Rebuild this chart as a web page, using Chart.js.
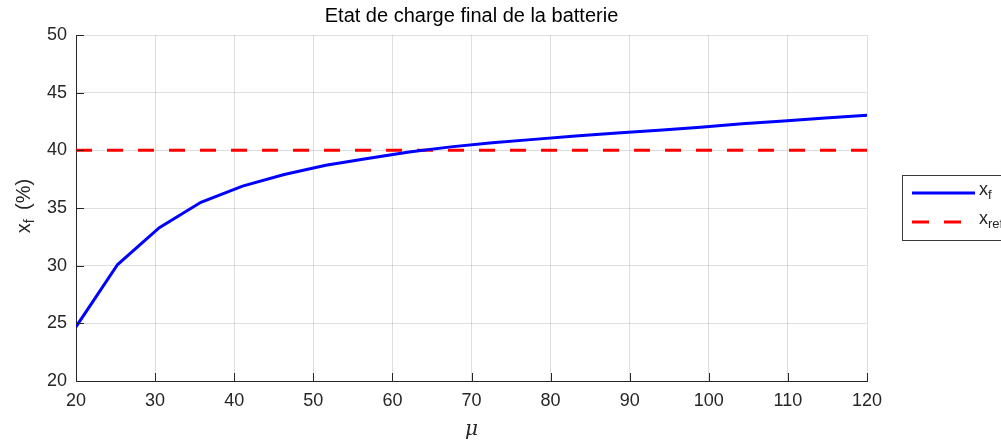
<!DOCTYPE html>
<html>
<head>
<meta charset="utf-8">
<script src="https://cdn.jsdelivr.net/npm/chart.js@4/dist/chart.umd.min.js"></script>
<style>
  html, body { margin: 0; padding: 0; background: #fff; }
  #wrap { width: 1001px; height: 441px; }
</style>
</head>
<body>
<div id="wrap"><canvas id="GraficoEtat" width="1001" height="441"></canvas></div>
<script>
// valeurs
var mu = [20, 25.26, 30.53, 35.79, 41.05, 46.32, 51.58, 56.84, 62.11, 67.37,
          72.63, 77.89, 83.16, 88.42, 93.68, 98.95, 104.21, 109.47, 114.74, 120];
var xf = [24.7, 30.1, 33.3, 35.5, 36.9, 37.9, 38.7, 39.3, 39.85, 40.3,
          40.65, 40.95, 41.25, 41.5, 41.75, 42.0, 42.3, 42.55, 42.8, 43.05];
var xrefMu = [20, 120];
var xref = [40, 40];
var xTicks = [20, 30, 40, 50, 60, 70, 80, 90, 100, 110, 120];
var yTicks = [20, 25, 30, 35, 40, 45, 50];
var titre = 'Etat de charge final de la batterie';

var FONT = '"Liberation Sans", Arial, Helvetica, sans-serif';
var AXE = '#262626';

function pts(xs, ys) {
    return xs.map(function (v, i) { return { x: v, y: ys[i] }; });
}

// texte avec indice (x_f, x_ref)
function texteIndice(ctx, base, sub, rest, x, y, size, gap) {
    ctx.font = size + 'px ' + FONT;
    ctx.fillText(base, x, y);
    var w = ctx.measureText(base).width;
    ctx.font = Math.round(size * 0.72) + 'px ' + FONT;
    ctx.fillText(sub, x + w, y + size * 0.3);
    var w2 = ctx.measureText(sub).width + (gap || 0);
    if (rest) {
        ctx.font = size + 'px ' + FONT;
        ctx.fillText(rest, x + w + w2, y);
        w2 += ctx.measureText(rest).width;
    }
    return w + w2;
}

var decor = {
    id: 'decor',
    afterDraw: function (chart) {
        var ctx = chart.ctx;
        var a = chart.chartArea;
        var sx = chart.scales.x, sy = chart.scales.y;
        ctx.save();

        // ticks vers l'interieur
        ctx.strokeStyle = AXE;
        ctx.lineWidth = 1;
        ctx.beginPath();
        xTicks.forEach(function (t) {
            var px = Math.round(sx.getPixelForValue(t)) + 0.5;
            ctx.moveTo(px, a.bottom);
            ctx.lineTo(px, a.bottom - 8);
        });
        yTicks.forEach(function (t) {
            var py = Math.round(sy.getPixelForValue(t)) + 0.5;
            ctx.moveTo(a.left, py);
            ctx.lineTo(a.left + 8, py);
        });
        ctx.stroke();

        // titre
        ctx.fillStyle = '#000';
        ctx.font = '20px ' + FONT;
        ctx.textAlign = 'center';
        ctx.textBaseline = 'middle';
        ctx.fillText(titre, (a.left + a.right) / 2, 16);

        // titre axe x
        ctx.fillStyle = AXE;
        ctx.font = 'italic 20px "DejaVu Serif", serif';
        ctx.fillText('\u03BC', (a.left + a.right) / 2, 430);

        // titre axe y
        ctx.save();
        ctx.translate(24, 203);
        ctx.rotate(-Math.PI / 2);
        ctx.textAlign = 'left';
        ctx.font = '20px ' + FONT;
        var total = ctx.measureText('x').width + 14 + ctx.measureText(' (%)').width;
        ctx.fillStyle = AXE;
        texteIndice(ctx, 'x', 'f', ' (%)', -total / 2, 0, 20, 4);
        ctx.restore();

        // legende
        var lx = 902, ly = 175, lw = 110, lh = 65;
        ctx.fillStyle = '#fff';
        ctx.fillRect(lx, ly, lw, lh);
        ctx.strokeStyle = '#3a3a3a';
        ctx.lineWidth = 1;
        ctx.strokeRect(lx + 0.5, ly + 0.5, lw, lh);
        ctx.textAlign = 'left';
        ctx.textBaseline = 'middle';
        ctx.lineWidth = 3;
        ctx.strokeStyle = '#0000ff';
        ctx.beginPath();
        ctx.moveTo(912, 193);
        ctx.lineTo(975, 193);
        ctx.stroke();
        ctx.fillStyle = AXE;
        texteIndice(ctx, 'x', 'f', '', 979, 190, 18);
        ctx.strokeStyle = '#ff0000';
        ctx.setLineDash([17, 15]);
        ctx.beginPath();
        ctx.moveTo(912, 222);
        ctx.lineTo(975, 222);
        ctx.stroke();
        ctx.setLineDash([]);
        ctx.fillStyle = AXE;
        texteIndice(ctx, 'x', 'ref', '', 979, 219, 18);

        ctx.restore();
    }
};

var ctx = document.getElementById('GraficoEtat').getContext('2d');

var grafico = new Chart(ctx, {
    type: 'line',
    data: {
        datasets: [{
            label: 'x_f',
            data: pts(mu, xf),
            borderColor: '#0000ff',
            backgroundColor: '#0000ff',
            borderWidth: 3,
            pointRadius: 0,
            tension: 0,
            order: 1
        }, {
            label: 'x_ref',
            data: pts(xrefMu, xref),
            borderColor: '#ff0000',
            backgroundColor: '#ff0000',
            borderWidth: 3,
            borderDash: [16, 15],
            pointRadius: 0,
            order: 2
        }]
    },
    options: {
        responsive: false,
        animation: false,
        layout: { padding: { top: 35, right: 134, bottom: 0, left: 0 } },
        plugins: {
            legend: { display: false },
            title: { display: false },
            tooltip: { enabled: false }
        },
        scales: {
            x: {
                type: 'linear',
                min: 20, max: 120,
                afterBuildTicks: function (s) { s.ticks = xTicks.map(function (v) { return { value: v }; }); },
                afterFit: function (s) { s.height = 60; },
                grid: { color: 'rgba(38,38,38,0.15)', drawTicks: false },
                border: { display: true, color: AXE, width: 1 },
                ticks: { color: AXE, font: { family: FONT, size: 18 }, padding: 9, maxRotation: 0 }
            },
            y: {
                type: 'linear',
                min: 20, max: 50,
                afterBuildTicks: function (s) { s.ticks = yTicks.map(function (v) { return { value: v }; }); },
                afterFit: function (s) { s.width = 76; },
                grid: { color: 'rgba(38,38,38,0.15)', drawTicks: false },
                border: { display: true, color: AXE, width: 1 },
                ticks: { color: AXE, font: { family: FONT, size: 18 }, padding: 9 }
            }
        }
    },
    plugins: [decor]
});
</script>
</body>
</html>
